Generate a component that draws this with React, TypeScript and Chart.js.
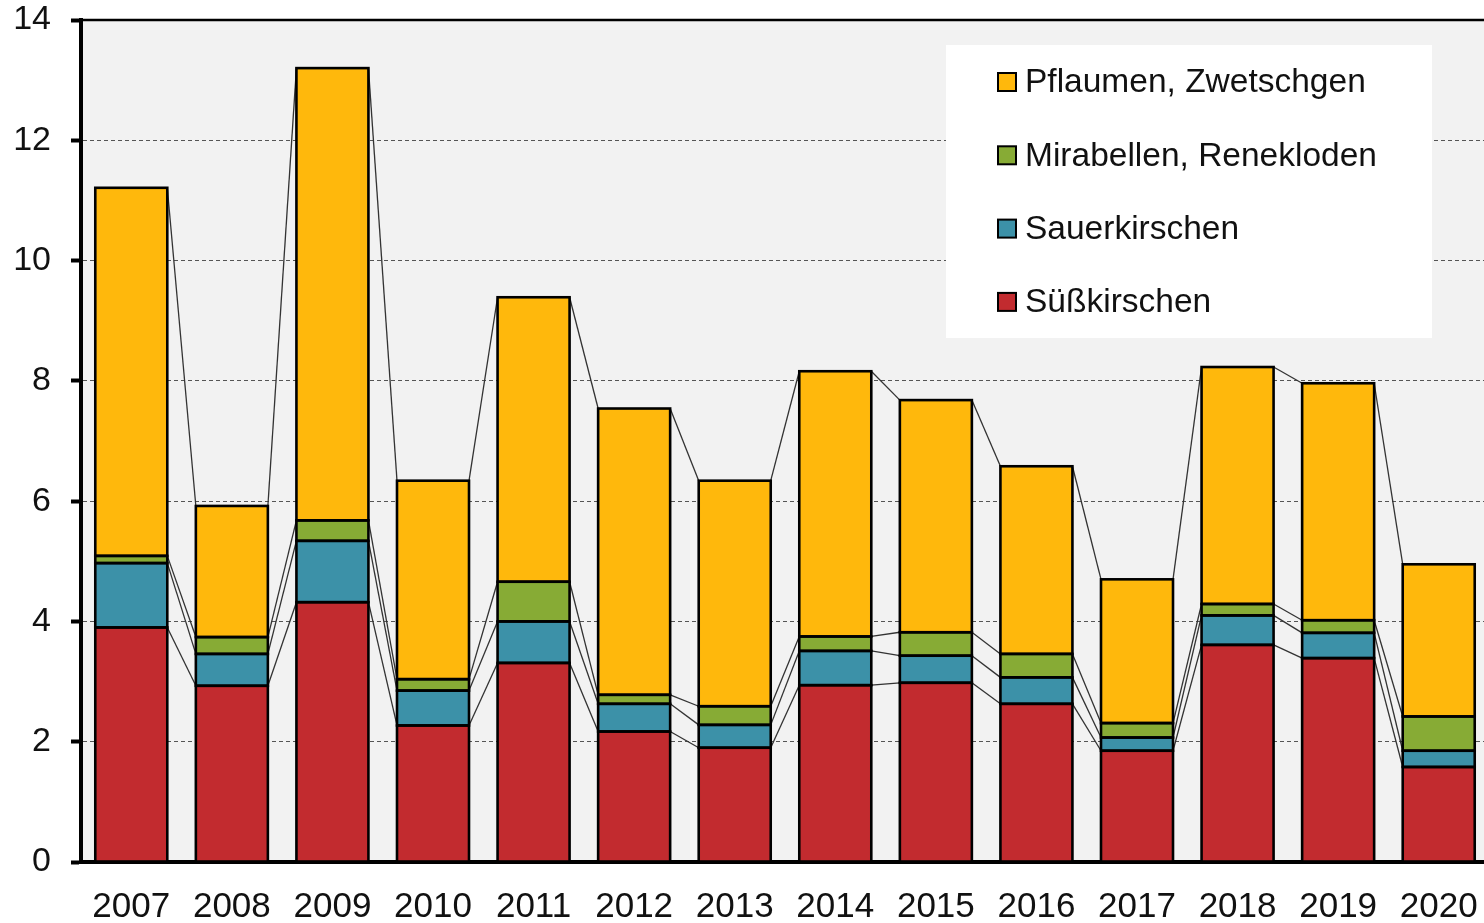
import React, { useEffect, useRef } from "react";
import { Chart, registerables } from "chart.js";

Chart.register(...registerables);

const years = ["2007", "2008", "2009", "2010", "2011", "2012", "2013", "2014", "2015", "2016", "2017", "2018", "2019", "2020"];
const suesskirschen = [3.9, 2.93, 4.32, 2.27, 3.31, 2.17, 1.9, 2.94, 2.98, 2.63, 1.85, 3.61, 3.39, 1.58];
const sauerkirschen = [1.07, 0.53, 1.02, 0.58, 0.69, 0.46, 0.38, 0.57, 0.45, 0.44, 0.22, 0.49, 0.42, 0.27];
const mirabellen = [0.12, 0.28, 0.34, 0.19, 0.66, 0.15, 0.31, 0.24, 0.39, 0.39, 0.24, 0.19, 0.21, 0.57];
const pflaumen = [6.12, 2.18, 7.52, 3.3, 4.73, 4.76, 3.75, 4.41, 3.86, 3.12, 2.39, 3.94, 3.94, 2.53];
const yTicks = [0, 2, 4, 6, 8, 10, 12, 14];

const FONT = '"Liberation Sans", Arial, sans-serif';

const plotBgPlugin = {
  id: "plotBg",
  beforeDraw(chart: any) {
    const { ctx, chartArea } = chart;
    ctx.save();
    ctx.fillStyle = "#f2f2f2";
    ctx.fillRect(chartArea.left, chartArea.top, chartArea.right - chartArea.left, chartArea.bottom - chartArea.top);
    ctx.restore();
  },
};

const seriesLinesPlugin = {
  id: "seriesLines",
  beforeDatasetsDraw(chart: any) {
    const { ctx } = chart;
    ctx.save();
    ctx.strokeStyle = "#333333";
    ctx.lineWidth = 1.3;
    chart.data.datasets.forEach((_: any, d: number) => {
      const meta = chart.getDatasetMeta(d);
      for (let i = 0; i < meta.data.length - 1; i++) {
        const a = meta.data[i];
        const b = meta.data[i + 1];
        ctx.beginPath();
        ctx.moveTo(a.x + a.width / 2, a.y);
        ctx.lineTo(b.x - b.width / 2, b.y);
        ctx.stroke();
      }
    });
    ctx.restore();
  },
  afterDatasetsDraw(chart: any) {
    const { ctx, chartArea } = chart;
    ctx.save();
    // bar outlines (Excel-style, centred on the segment edges)
    ctx.strokeStyle = "#000";
    ctx.lineWidth = 2.6;
    chart.data.datasets.forEach((_: any, d: number) => {
      const meta = chart.getDatasetMeta(d);
      meta.data.forEach((el: any) => {
        const left = el.x - el.width / 2;
        const top = Math.min(el.y, el.base);
        const h = Math.abs(el.base - el.y);
        ctx.strokeRect(left, top, el.width, h);
      });
    });
    // top frame of plot area
    ctx.lineWidth = 2.5;
    ctx.beginPath();
    ctx.moveTo(chartArea.left, chartArea.top);
    ctx.lineTo(chartArea.right, chartArea.top);
    ctx.stroke();
    ctx.restore();
  },
};

const legendPlugin = {
  id: "customLegend",
  afterDraw(chart: any) {
    const { ctx } = chart;
    const boxX = 946, boxY = 45, boxW = 486, boxH = 293;
    ctx.save();
    ctx.fillStyle = "#ffffff";
    ctx.fillRect(boxX, boxY, boxW, boxH);
    const ds = chart.data.datasets.slice().reverse();
    ds.forEach((d: any, i: number) => {
      const cy = 82 + i * 73.3;
      ctx.fillStyle = d.backgroundColor;
      ctx.fillRect(998, cy - 9, 18, 18);
      ctx.strokeStyle = "#000";
      ctx.lineWidth = 2;
      ctx.strokeRect(998, cy - 9, 18, 18);
      ctx.fillStyle = "#111";
      ctx.font = `33.5px ${FONT}`;
      ctx.textBaseline = "middle";
      ctx.textAlign = "left";
      ctx.fillText(d.label, 1025, cy + 1);
    });
    ctx.restore();
  },
};

export default function App() {
  const ref = useRef<HTMLCanvasElement>(null);
  useEffect(() => {
    const canvas = ref.current!;
    const common = { borderWidth: 0, barPercentage: 0.716, categoryPercentage: 1 };
    const chart = new Chart(canvas, {
      type: "bar",
      data: {
        labels: years,
        datasets: [
          { label: "Süßkirschen", data: suesskirschen, backgroundColor: "#c22b2f", ...common },
          { label: "Sauerkirschen", data: sauerkirschen, backgroundColor: "#3c91a8", ...common },
          { label: "Mirabellen, Renekloden", data: mirabellen, backgroundColor: "#87ab35", ...common },
          { label: "Pflaumen, Zwetschgen", data: pflaumen, backgroundColor: "#ffb80c", ...common },
        ],
      },
      options: {
        responsive: false,
        animation: false,
        devicePixelRatio: 1,
        layout: { padding: { top: 20, right: 11, left: 0, bottom: 0 } },
        plugins: { legend: { display: false }, tooltip: { enabled: false } },
        scales: {
          x: {
            stacked: true,
            grid: { display: false, drawTicks: false },
            border: { display: true, color: "#000", width: 4 },
            ticks: { color: "#111", font: { family: FONT, size: 35 }, padding: 24, maxRotation: 0, autoSkip: false },
            afterFit: (s: any) => { s.height = 61; s.paddingLeft = 0; s.paddingRight = 0; },
          },
          y: {
            stacked: true,
            min: 0,
            max: 14,
            afterBuildTicks: (s: any) => { s.ticks = yTicks.map((v) => ({ value: v })); },
            grid: {
              color: (c: any) => (c.tick && (c.tick.value === 0 || c.tick.value === 14) ? "rgba(0,0,0,0)" : "#555"),
              lineWidth: 1,
              tickLength: 10,
              tickWidth: 4,
              tickColor: "#000",
            },
            border: { display: true, color: "#000", width: 4, dash: [4, 3] },
            ticks: { color: "#111", font: { family: FONT, size: 34 }, padding: 20 },
            afterFit: (s: any) => { s.width = 81; s.paddingTop = 0; s.paddingBottom = 0; },
          },
        },
      },
      plugins: [plotBgPlugin, seriesLinesPlugin, legendPlugin],
    });
    return () => chart.destroy();
  }, []);
  return (
    <div style={{ position: "fixed", left: 0, top: 0, width: 1500, height: 923, overflow: "hidden", background: "#fff" }}>
      <canvas ref={ref} width={1500} height={923} style={{ width: 1500, height: 923, display: "block" }} />
    </div>
  );
}
